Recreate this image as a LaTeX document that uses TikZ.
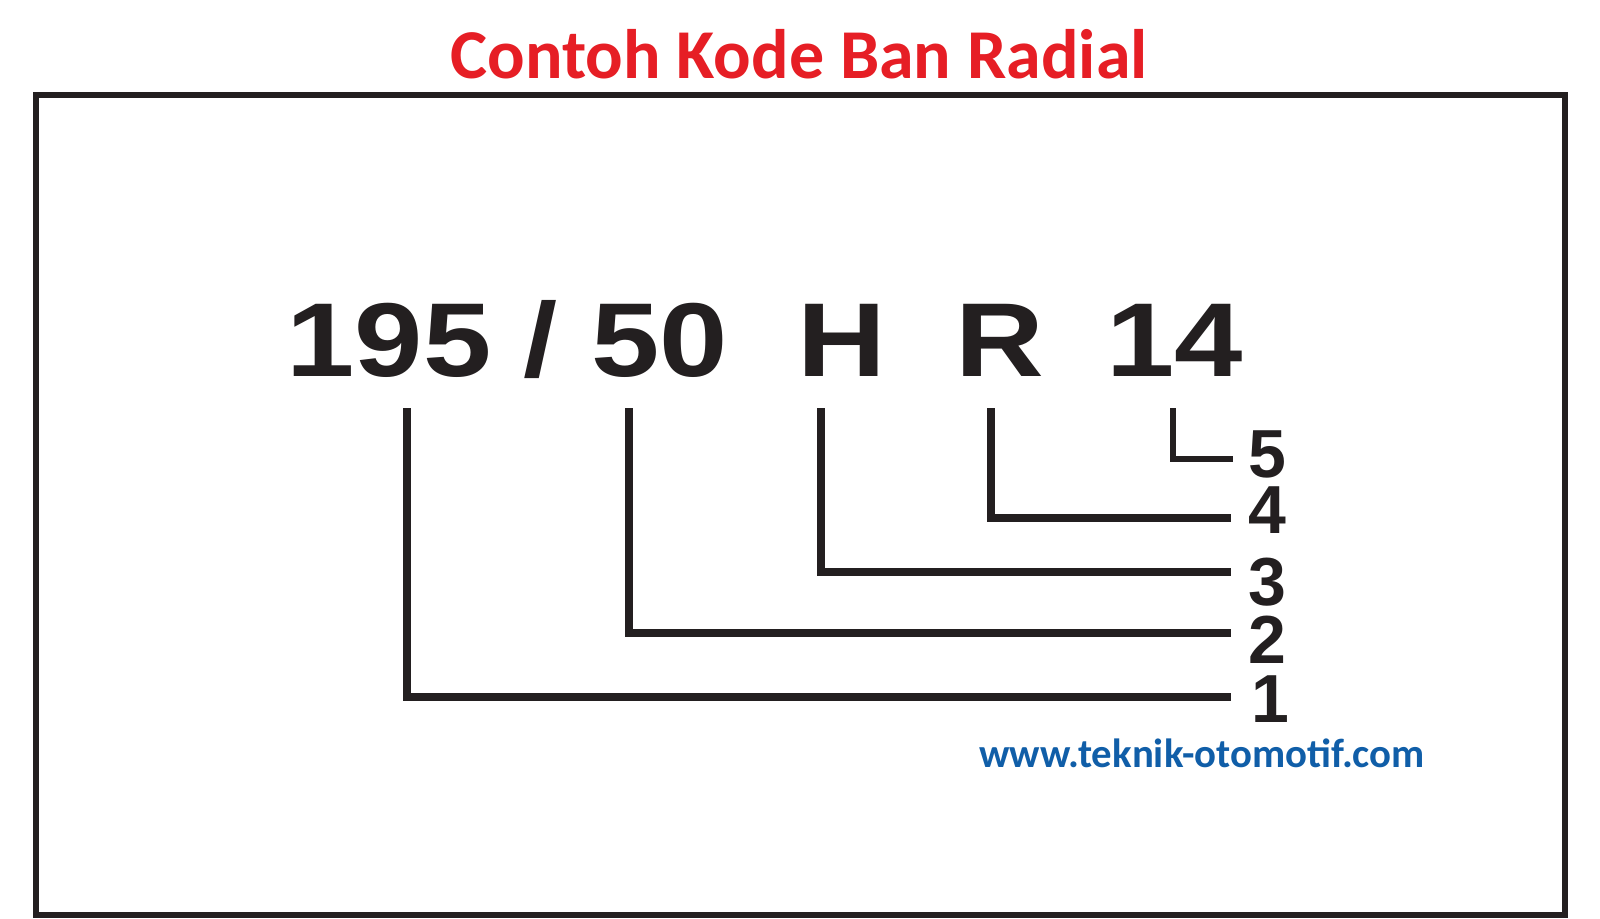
\documentclass[tikz,border=0pt]{standalone}
\usepackage{fontspec}
\setmainfont{Liberation Sans}
\newfontfamily\titlefont{Carlito}
\definecolor{titlered}{RGB}{230,30,37}
\definecolor{webblue}{RGB}{16,94,168}
\definecolor{ink}{RGB}{35,31,32}

\begin{document}
\begin{tikzpicture}[x=1pt, y=-1pt,
	code/.style={anchor=base, inner sep=0pt, text=ink, font=\fontsize{105}{108}\selectfont\bfseries},
	num/.style={anchor=base, inner sep=0pt, text=ink, font=\fontsize{68}{70}\selectfont\bfseries},
	leader/.style={draw=ink, line width=8pt, line join=miter}]
		\useasboundingbox (0, 0) rectangle (1600, 918);
		\fill [white] (0, 0) rectangle (1600, 918);
		% judul
		\node [anchor=base, inner sep=0pt, text=titlered, font=\titlefont\fontsize{70}{72}\selectfont\bfseries] (title) at (799, 78) {Contoh Kode Ban Radial};
		\draw [ink, line width=6pt] (35.7, 95.3) rectangle (1565, 914.8);
		% kode ban
		\node [code] (wdt) at (389, 376) {\scalebox{1.17}[1]{195}};
		\node [code] (slash) at (541, 376) {\scalebox{1.17}[1]{/}};
		\node [code] (asp) at (660, 376) {\scalebox{1.17}[1]{50}};
		\node [code] (spd) at (842, 376) {\scalebox{1.17}[1]{H}};
		\node [code] (rad) at (999.5, 376) {\scalebox{1.17}[1]{R}};
		\node [code] (rim) at (1175, 376) {\scalebox{1.17}[1]{14}};
		% nomor
		\node [num] (lab1) at (1270, 722) {1};
		\node [num] (lab2) at (1267.5, 663) {2};
		\node [num] (lab3) at (1267.5, 605.5) {3};
		\node [num] (lab4) at (1267.5, 533) {4};
		\node [num] (lab5) at (1267.5, 477) {5};
		% garis penunjuk
		\foreach \i/\x/\y in {1/406.5/696.5, 2/629/633, 3/820.5/572, 4/990.5/517.5} {
			\coordinate (top\i) at (\x, 408);
			\coordinate (end\i) at (1231, \y);
			\draw [leader] (top\i) |- (end\i);
		}
		\coordinate (top5) at (1173, 408);
		\coordinate (end5) at (1233, 459);
		\draw [leader, line width=6.5pt] (top5) |- (end5);
		% situs
		\node [anchor=base, inner sep=0pt, text=webblue, font=\titlefont\fontsize{40.8}{42}\selectfont\bfseries] (web) at (1202, 767) {www.teknik-otomotif.com};
	\end{tikzpicture}
\end{document}
